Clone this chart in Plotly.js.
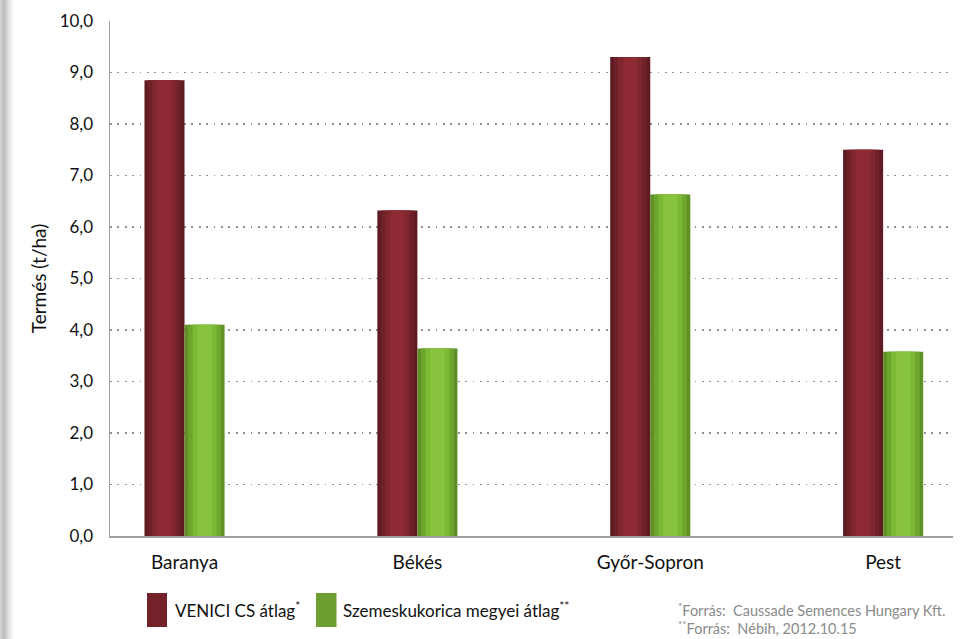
<!DOCTYPE html>
<html>
<head>
<meta charset="utf-8">
<script src="https://cdn.plot.ly/plotly-3.0.1.min.js"></script>
<style>
  html, body { margin: 0; padding: 0; }
  body {
    width: 970px; height: 639px; overflow: hidden;
    background: linear-gradient(to right, #d6d6d6 0px, #bcbcbc 4px, #e6e6e6 9px, #ffffff 14px);
  }
  #chart { width: 970px; height: 639px; }
</style>
</head>
<body>
<div id="chart"></div>
<script>
// ---- data ----
const categories = ['Baranya', 'Békés', 'Győr-Sopron', 'Pest'];
const veniciValues = [8.85, 6.32, 9.3, 7.5];
const megyeiValues = [4.1, 3.64, 6.63, 3.58];
const seriesNames = ['VENICI CS átlag', 'Szemeskukorica megyei átlag'];
const seriesMarks = ['*', '**'];
const yTickValues = [0, 1, 2, 3, 4, 5, 6, 7, 8, 9, 10];
const yAxisTitle = 'Termés (t/ha)';
const footnotes = ['Forrás:  Caussade Semences Hungary Kft.', 'Forrás:  Nébih, 2012.10.15'];

// ---- style ----
const FONT = 'Lato, "Open Sans", sans-serif';
const barW = 0.172; // one bar width in category units
const redLayers = [[1.0, '#5e1b21'], [0.82, '#6f2129'], [0.6, '#80262f'], [0.36, '#8d2a34']];
const greenLayers = [[1.0, '#5f8f26'], [0.82, '#6ea62d'], [0.6, '#7bb834'], [0.36, '#87c33c']];

function layers(values, name, spec, side) {
  return spec.map(function (s, i) {
    const w = barW * s[0];
    const off = side < 0 ? -barW + (barW - w) / 2 : (barW - w) / 2;
    return {
      type: 'bar', x: categories, y: values, name: name,
      width: w, offset: off,
      marker: { color: s[1], line: { width: 0 } },
      showlegend: false, hoverinfo: i === 0 ? 'y+name' : 'skip'
    };
  });
}

const traces = [].concat(
  layers(veniciValues, seriesNames[0], redLayers, -1),
  layers(megyeiValues, seriesNames[1], greenLayers, 0)
);

const L = 110, R = 953, T = 21, B = 536;
const pw = R - L, ph = B - T;
const px = v => (v - L) / pw;
const py = v => (B - v) / ph;

const shapes = [
  { type: 'rect', xref: 'paper', yref: 'paper', x0: px(147), x1: px(167), y0: py(593), y1: py(627),
    fillcolor: '#74222a', line: { width: 0 } },
  { type: 'rect', xref: 'paper', yref: 'paper', x0: px(316), x1: px(336.5), y0: py(593), y1: py(627),
    fillcolor: '#6c9f2f', line: { width: 0 } }
];

const annotations = [
  { xref: 'paper', yref: 'paper', x: px(173), y: py(609), xanchor: 'left', yanchor: 'middle', showarrow: false,
    text: seriesNames[0] + '<sup>' + seriesMarks[0] + '</sup>', font: { family: FONT, size: 17, color: '#111' } },
  { xref: 'paper', yref: 'paper', x: px(341), y: py(609), xanchor: 'left', yanchor: 'middle', showarrow: false,
    text: seriesNames[1] + '<sup>' + seriesMarks[1] + '</sup>', font: { family: FONT, size: 17, color: '#111' } },
  { xref: 'paper', yref: 'paper', x: px(676), y: py(609), xanchor: 'left', yanchor: 'middle', showarrow: false,
    text: '<sup>' + seriesMarks[0] + '</sup>' + footnotes[0], font: { family: FONT, size: 14.5, color: '#8a8a8a' } },
  { xref: 'paper', yref: 'paper', x: px(676), y: py(627), xanchor: 'left', yanchor: 'middle', showarrow: false,
    text: '<sup>' + seriesMarks[1] + '</sup>' + footnotes[1], font: { family: FONT, size: 14.5, color: '#8a8a8a' } }
];

const layout = {
  width: 970, height: 639,
  margin: { l: L, r: 970 - R, t: T, b: 639 - B },
  paper_bgcolor: 'rgba(0,0,0,0)', plot_bgcolor: 'rgba(0,0,0,0)',
  barmode: 'overlay',
  separators: ', ',
  showlegend: false,
  font: { family: FONT, color: '#111' },
  xaxis: {
    type: 'category', range: [-0.32, 3.3], fixedrange: true,
    showline: true, linecolor: '#a0a0a0', linewidth: 1.5,
    showgrid: false, zeroline: false,
    ticks: 'outside', ticklen: 9, tickcolor: 'rgba(0,0,0,0)',
    tickfont: { family: FONT, size: 19, color: '#111' }
  },
  yaxis: {
    range: [0, 10], tickvals: yTickValues, tickformat: '.1f', fixedrange: true,
    showline: true, linecolor: '#a0a0a0', linewidth: 1.5,
    showgrid: true, gridcolor: '#8f8f8f', gridwidth: 1.7, griddash: '1.7px,5.7px',
    zeroline: false,
    ticks: 'outside', ticklen: 12, tickcolor: 'rgba(0,0,0,0)',
    tickfont: { family: FONT, size: 17, color: '#111' },
    title: { text: yAxisTitle, font: { family: FONT, size: 19, color: '#111' }, standoff: 8 }
  },
  shapes: shapes,
  annotations: annotations
};

Plotly.newPlot('chart', traces, layout, { displayModeBar: false, staticPlot: true });
</script>
</body>
</html>
